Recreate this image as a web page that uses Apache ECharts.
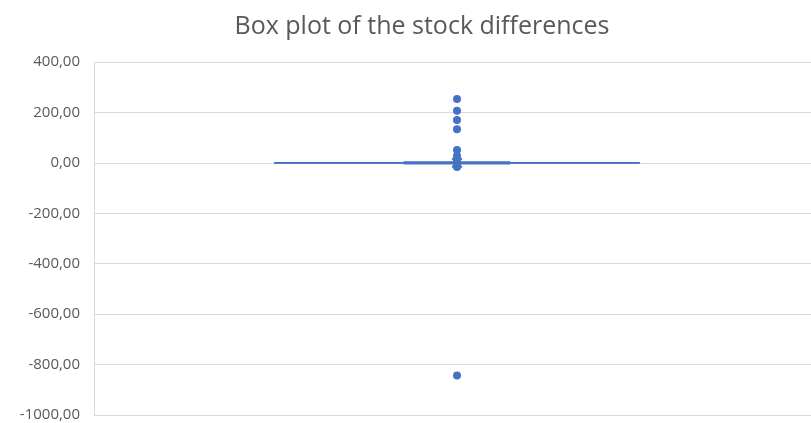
<!DOCTYPE html>
<html>
<head>
<meta charset="utf-8">
<script src="https://cdn.jsdelivr.net/npm/echarts@6/dist/echarts.min.js"></script>
<style>
  html, body { margin: 0; padding: 0; background: #ffffff; overflow: hidden; }
  #chart { width: 820px; height: 423px; }
</style>
</head>
<body>
<div id="chart"></div>
<script>
// Single group of stock differences
const categories = ['1'];
// Box statistics: [min, Q1, median, Q3, max]
const boxStats = [-4, -1.5, 0, 1.5, 4];
const meanValues = [0];
// Points outside the whiskers
const outliers = [253, 207, 170, 133, 51, 27, 13, -4, -16, -843];
// Value axis ticks
const yTicks = [-1000, -800, -600, -400, -200, 0, 200, 400];

const blue = '#4472C4';
const fmt = v => v.toFixed(2).replace('.', ',');

const chart = echarts.init(document.getElementById('chart'), null, { renderer: 'canvas' });

chart.setOption({
  animation: false,
  backgroundColor: '#ffffff',
  title: {
    text: 'Box plot of the stock differences',
    left: 417,
    textAlign: 'center',
    top: 9,
    textStyle: { fontFamily: 'Open Sans', fontWeight: 'normal', fontSize: 25, color: '#595959' }
  },
  grid: { left: 94, right: 0, top: 62, bottom: 8, containLabel: false },
  xAxis: {
    type: 'category',
    data: categories,
    boundaryGap: true,
    axisLine: { show: false },
    axisTick: { show: false },
    axisLabel: { show: false },
    splitLine: { show: false }
  },
  yAxis: {
    type: 'value',
    min: yTicks[0],
    max: yTicks[yTicks.length - 1],
    interval: 200,
    axisLine: { show: true, lineStyle: { color: '#D9D9D9', width: 1 } },
    axisTick: { show: false },
    axisLabel: {
      formatter: fmt,
      color: '#595959',
      fontFamily: 'Open Sans',
      fontSize: 15,
      margin: 14
    },
    splitLine: { lineStyle: { color: '#D9D9D9', width: 1 } }
  },
  series: [
    {
      type: 'custom',
      data: [[0].concat(boxStats)],
      z: 2,
      renderItem: function (params, api) {
        const band = api.size([1, 0])[0];
        const cx = api.coord([api.value(0), 0])[0];
        const yMin = api.coord([0, api.value(1)])[1];
        const yQ1 = api.coord([0, api.value(2)])[1];
        const yMed = api.coord([0, api.value(3)])[1];
        const yQ3 = api.coord([0, api.value(4)])[1];
        const yMax = api.coord([0, api.value(5)])[1];
        const boxHalf = band * 0.503 / 2;
        const capHalf = band * 0.147 / 2;
        const stroke = { stroke: blue, lineWidth: 1.2 };
        return {
          type: 'group',
          children: [
            { type: 'rect', shape: { x: cx - boxHalf, y: yQ3, width: boxHalf * 2, height: yQ1 - yQ3 }, style: { fill: blue, stroke: blue, lineWidth: 1 } },
            { type: 'line', shape: { x1: cx - boxHalf, y1: yMed, x2: cx + boxHalf, y2: yMed }, style: stroke },
            { type: 'line', shape: { x1: cx, y1: yQ3, x2: cx, y2: yMax }, style: stroke },
            { type: 'line', shape: { x1: cx, y1: yQ1, x2: cx, y2: yMin }, style: stroke },
            { type: 'line', shape: { x1: cx - capHalf, y1: yMax, x2: cx + capHalf, y2: yMax }, style: stroke },
            { type: 'line', shape: { x1: cx - capHalf, y1: yMin, x2: cx + capHalf, y2: yMin }, style: stroke }
          ]
        };
      }
    },
    {
      type: 'scatter',
      data: outliers.map(v => [0, v]),
      symbol: 'circle',
      symbolSize: 8,
      itemStyle: { color: blue, opacity: 1 },
      z: 3
    },
    {
      type: 'scatter',
      data: meanValues.map(v => [0, v]),
      symbol: 'path://M0,1.5L1.5,0L5,3.5L8.5,0L10,1.5L6.5,5L10,8.5L8.5,10L5,6.5L1.5,10L0,8.5L3.5,5Z',
      symbolSize: 11,
      itemStyle: { color: blue, opacity: 1 },
      z: 4
    }
  ]
});
</script>
</body>
</html>
